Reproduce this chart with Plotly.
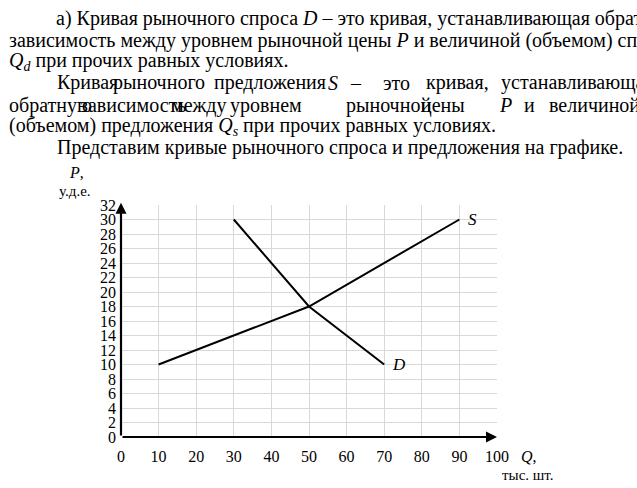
import plotly.graph_objects as go

# Data
supply_q = [10, 50, 90]
supply_p = [10, 18, 30]
demand_q = [30, 50, 70]
demand_p = [30, 18, 10]
x_ticks = [0, 10, 20, 30, 40, 50, 60, 70, 80, 90, 100]
y_ticks = list(range(0, 33, 2))

FONT = "Liberation Serif"
W, H = 637, 488
L, R, T, B = 121, 140, 205, 51

fig = go.Figure()
fig.add_trace(go.Scatter(x=supply_q, y=supply_p, mode="lines",
                         line=dict(color="black", width=2), showlegend=False, hoverinfo="skip"))
fig.add_trace(go.Scatter(x=demand_q, y=demand_p, mode="lines",
                         line=dict(color="black", width=2), showlegend=False, hoverinfo="skip"))

ann = []
ann.append(dict(x=0, y=32.3, ax=0, ay=0, xref="x", yref="y", axref="x", ayref="y",
                showarrow=True, arrowhead=2, arrowsize=1, arrowwidth=2.2, arrowcolor="black", text=""))
ann.append(dict(x=100, y=0, ax=0, ay=0, xref="x", yref="y", axref="x", ayref="y",
                showarrow=True, arrowhead=2, arrowsize=1, arrowwidth=2.2, arrowcolor="black", text=""))

ann.append(dict(x=93.5, y=30, xref="x", yref="y", text="<i>S</i>", showarrow=False,
                font=dict(family=FONT, size=17, color="black"), xanchor="center", yanchor="middle"))
ann.append(dict(x=74, y=10, xref="x", yref="y", text="<i>D</i>", showarrow=False,
                font=dict(family=FONT, size=17, color="black"), xanchor="center", yanchor="middle"))

def fig_ann(xp, yp, text, size=20, xanchor="left"):
    xpaper = (xp - L) / (W - L - R)
    ypaper = 1 - (yp - T) / (H - T - B)
    ann.append(dict(x=xpaper, y=ypaper, xref="paper", yref="paper", text=text,
                    showarrow=False, xanchor=xanchor, yanchor="middle",
                    font=dict(family=FONT, size=size, color="black")))

TS = 20
fig_ann(54, 18, "а) Кривая рыночного спроса <i>D</i> – это кривая, устанавливающая обратную", TS)
fig_ann(7, 40, "зависимость между уровнем рыночной цены <i>P</i> и величиной (объемом) спроса", TS)
fig_ann(7, 61, "<i>Q</i><sub><i>d</i></sub> при прочих равных условиях.", TS)
line4 = [(55, "Кривая"), (111, "рыночного"), (212, "предложения"), (326, "<i>S</i>"),
         (348, "–"), (381, "это"), (424, "кривая,"), (499, "устанавливающая")]
for xp, w in line4:
    fig_ann(xp, 83, w, TS)
line5 = [(7, "обратную"), (78, "зависимость"), (169, "между"), (228, "уровнем"),
         (344, "рыночной"), (419, "цены"), (497, "<i>P</i>"), (522, "и"), (547, "величиной")]
for xp, w in line5:
    fig_ann(xp, 105, w, TS)
fig_ann(7, 126, "(объемом) предложения <i>Q</i><sub><i>s</i></sub> при прочих равных условиях.", TS)
fig_ann(55, 147, "Представим кривые рыночного спроса и предложения на графике.", TS)

fig_ann(67, 172, "<i>P</i>,", 16)
fig_ann(57, 191, "у.д.е.", 15)
fig_ann(519, 456, "<i>Q</i>,", 16)
fig_ann(528, 475, "тыс. шт.", 15, xanchor="center")

fig.update_layout(
    width=W, height=H,
    margin=dict(l=L, r=R, t=T, b=B, pad=0),
    paper_bgcolor="white", plot_bgcolor="white",
    font=dict(family=FONT, color="black"),
    annotations=ann,
    xaxis=dict(range=[0, 100], tickmode="array", tickvals=x_ticks,
               ticktext=[str(v) for v in x_ticks], showgrid=True, gridcolor="#d9d9d9",
               gridwidth=1, zeroline=False, showline=False, ticks="",
               tickfont=dict(family=FONT, size=16, color="black"), ticklabelstandoff=8,
               fixedrange=True),
    yaxis=dict(range=[0, 32], tickmode="array", tickvals=y_ticks,
               ticktext=[str(v) for v in y_ticks], showgrid=True, gridcolor="#d9d9d9",
               gridwidth=1, zeroline=False, showline=False, ticks="",
               tickfont=dict(family=FONT, size=16, color="black"), ticklabelstandoff=4,
               fixedrange=True),
    showlegend=False,
)
fig.write_html("out.html")
